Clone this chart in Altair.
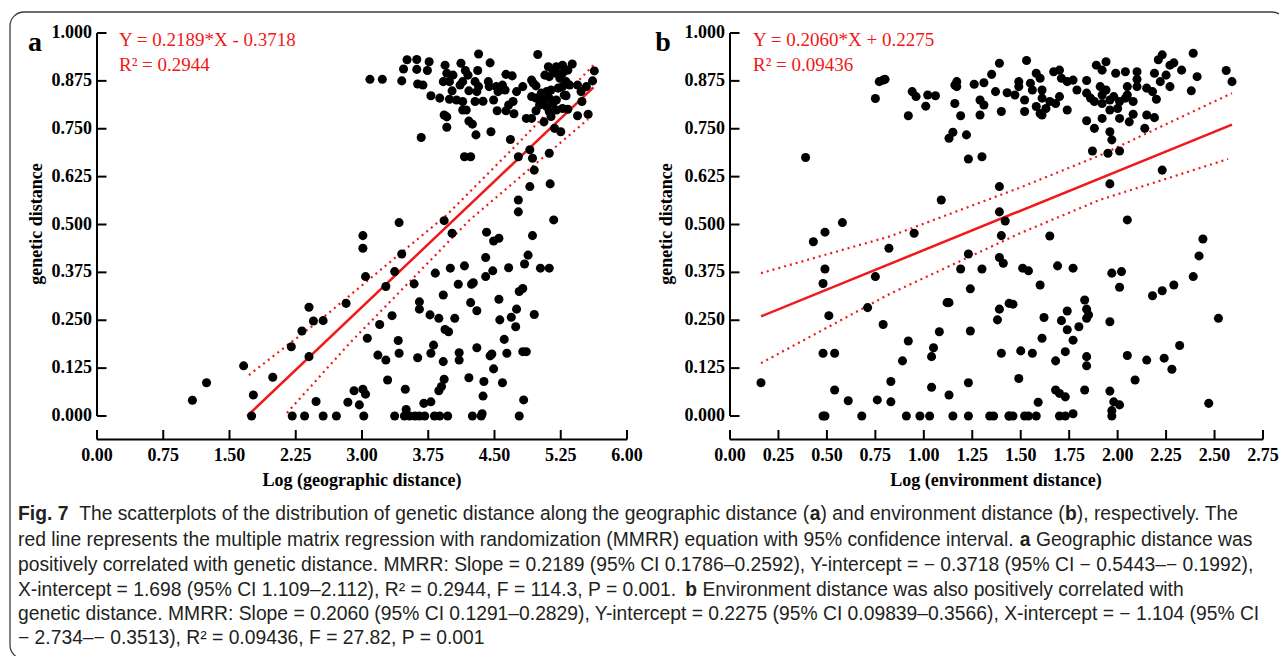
import altair as alt
import pandas as pd

# ---------------- data: panel a (geographic) ----------------
geo_x = [1.08, 1.24, 1.66, 1.77, 1.75, 1.99, 2.20, 2.32, 2.40, 2.45, 2.56, 2.40, 2.48, 2.21, 2.35, 2.56, 2.71,
         2.84, 2.91, 2.97, 3.01, 3.04, 3.02, 2.82, 3.01, 3.01, 3.04, 3.06, 3.42, 3.93, 4.02, 3.45, 3.37, 3.27,
         3.59, 3.34, 3.20, 3.18, 3.27, 3.41, 3.42, 3.29, 3.49, 3.37, 3.48, 3.54, 3.60, 3.65, 3.71, 3.50, 3.70,
         3.78, 3.82, 3.88, 3.97, 3.87, 3.90, 3.93, 3.65, 3.65, 3.77, 3.87, 3.92, 3.83, 4.00, 4.16, 4.09, 4.24,
         4.26, 3.94, 3.98, 4.05, 3.81, 3.78, 3.63, 3.92, 4.10, 4.10, 4.21, 4.23, 4.30, 4.30, 4.25, 4.35, 4.36,
         4.37, 4.38, 4.45, 4.47, 4.49, 4.59, 4.40, 4.40, 4.48, 4.41, 4.49, 4.55, 4.55, 4.56, 4.61, 4.64, 4.66,
         4.75, 4.69, 4.74, 4.83, 4.78, 4.78, 4.82, 4.84, 4.88, 4.93, 4.77, 4.77, 4.86, 4.82, 4.95, 5.02, 5.12,
         5.17,
         3.09, 3.23, 3.45, 3.51, 3.62, 3.76, 3.47, 3.62, 3.74, 3.63, 3.69, 3.78, 3.88, 3.94, 4.12, 4.32, 4.45,
         3.96, 4.03, 3.92, 3.99, 4.14, 4.17, 4.20, 4.31, 4.28, 4.32, 4.43, 4.44, 4.02, 3.99, 4.07, 4.14, 4.21,
         4.28, 4.37, 4.14, 4.18, 3.93, 3.96, 3.96, 4.21, 4.25, 4.29, 4.46, 3.67, 4.16, 4.23, 4.49, 4.54, 4.62,
         4.52, 4.63, 4.70, 4.53, 4.63, 4.72, 4.71, 4.66, 4.75, 4.82, 4.68, 4.99, 4.92, 4.94, 4.97, 4.92, 4.97,
         4.86, 4.92, 4.97, 5.06, 4.90, 4.77, 4.93, 4.95, 5.12, 4.90, 5.13,
         5.11, 5.16, 5.20, 5.12, 5.07, 5.24, 5.27, 5.33, 5.38, 5.31, 5.35, 5.27, 5.22, 5.14, 5.09, 5.03, 5.12,
         5.20, 5.29, 5.16, 5.09, 5.01, 5.12, 5.20, 5.27, 5.33, 5.14, 5.44, 5.48, 5.54, 5.63, 5.61, 5.49, 5.44,
         5.56, 5.18, 5.25, 5.31, 5.05, 5.27, 5.20, 4.11, 4.30, 4.59]
geo_y = [0.041, 0.087, 0.131, 0.055, 0.000, 0.101, 0.181, 0.222, 0.284, 0.248, 0.249, 0.155, 0.038, 0.000,
         0.000, 0.000, 0.000, 0.036, 0.066, 0.029, 0.070, 0.057, 0.000, 0.294, 0.471, 0.438, 0.364, 0.203,
         0.505, 0.510, 0.477, 0.423, 0.377, 0.338, 0.345, 0.262, 0.239, 0.159, 0.146, 0.197, 0.164, 0.094,
         0.070, 0.000, 0.000, 0.000, 0.000, 0.000, 0.000, 0.017, 0.033, 0.037, 0.000, 0.000, 0.000, 0.066,
         0.077, 0.096, 0.298, 0.279, 0.264, 0.255, 0.316, 0.373, 0.386, 0.392, 0.344, 0.344, 0.348, 0.226,
         0.220, 0.255, 0.185, 0.164, 0.152, 0.142, 0.165, 0.146, 0.100, 0.296, 0.275, 0.178, 0.000, 0.000,
         0.006, 0.052, 0.090, 0.157, 0.162, 0.123, 0.087, 0.414, 0.364, 0.379, 0.480, 0.457, 0.464, 0.305,
         0.251, 0.200, 0.164, 0.387, 0.279, 0.258, 0.233, 0.042, 0.000, 0.325, 0.333, 0.397, 0.420, 0.471,
         0.533, 0.564, 0.168, 0.168, 0.265, 0.386, 0.386, 0.512,
         0.879, 0.879, 0.875, 0.930, 0.931, 0.925, 0.906, 0.905, 0.902, 0.867, 0.864, 0.836, 0.830, 0.916,
         0.921, 0.945, 0.922, 0.895, 0.890, 0.873, 0.873, 0.873, 0.902, 0.890, 0.902, 0.873, 0.860, 0.873,
         0.860, 0.849, 0.827, 0.825, 0.821, 0.849, 0.821, 0.822, 0.799, 0.799, 0.786, 0.781, 0.754, 0.770,
         0.762, 0.734, 0.742, 0.727, 0.677, 0.677, 0.825, 0.847, 0.851, 0.860, 0.892, 0.888, 0.797, 0.797,
         0.789, 0.821, 0.812, 0.847, 0.860, 0.722, 0.944, 0.877, 0.869, 0.862, 0.834, 0.830, 0.777, 0.777,
         0.797, 0.768, 0.695, 0.677, 0.673, 0.642, 0.686, 0.599, 0.606,
         0.912, 0.903, 0.895, 0.886, 0.890, 0.882, 0.895, 0.903, 0.919, 0.873, 0.864, 0.860, 0.856, 0.851,
         0.847, 0.843, 0.830, 0.825, 0.838, 0.816, 0.808, 0.812, 0.795, 0.799, 0.803, 0.801, 0.782, 0.864,
         0.847, 0.860, 0.901, 0.875, 0.821, 0.784, 0.788, 0.751, 0.742, 0.836, 0.825, 0.916, 0.912, 0.864,
         0.847, 0.864]

# ---------------- data: panel b (environment) ----------------
env_x = [0.39, 0.75, 0.77, 0.79, 0.80, 0.92, 0.94, 0.96, 1.01, 1.02, 1.06, 1.09, 1.13, 1.15, 1.16, 1.16,
         1.17, 1.17, 1.19, 1.22, 1.23, 1.30, 1.26, 1.31, 1.29, 1.31, 1.29, 1.35, 1.37, 1.39, 1.40, 1.39,
         1.39, 1.43,
         0.16, 0.43, 0.49, 0.58, 0.49, 0.48, 0.51, 0.48, 0.54, 0.54, 0.61, 0.48, 0.49, 0.68, 0.76, 0.83,
         0.83, 0.71, 0.75, 0.82, 0.79, 0.92, 0.89, 0.91, 0.98, 1.03, 0.95, 1.04, 1.13, 1.04, 1.05, 1.08,
         1.12, 1.13, 1.15, 1.23, 1.23, 1.24, 1.24, 1.19, 1.30, 1.23, 1.34, 1.36, 1.44, 1.40, 1.38, 1.39,
         1.42, 1.40, 1.39, 1.41, 1.44,
         1.53, 1.49, 1.49, 1.47, 1.52, 1.55, 1.58, 1.60, 1.56, 1.61, 1.61, 1.65, 1.67, 1.70, 1.71, 1.74,
         1.77, 1.79, 1.70, 1.68, 1.63, 1.58, 1.60, 1.52, 1.74, 1.61, 1.84, 1.84, 1.86, 1.88, 1.84, 1.88,
         1.87, 1.89, 1.94, 1.92, 1.99, 2.04, 2.10, 1.91, 1.94, 1.92, 1.92, 1.96, 1.98, 2.01, 2.04, 2.05,
         2.08, 2.05, 2.10, 2.10, 2.00, 1.96, 1.92, 2.01, 2.06, 2.08, 2.15, 2.19, 2.14, 1.96, 1.97, 1.95,
         2.01, 2.15, 2.18, 2.20, 2.19, 2.21, 2.23, 2.27, 2.29, 2.33, 2.25, 2.22, 2.27, 2.39, 2.41, 2.38,
         2.56, 2.59, 2.23, 1.96,
         2.05, 1.65, 2.44, 2.42, 2.39, 2.29, 2.23, 2.18, 1.97, 2.02, 2.01, 1.51, 1.54, 1.69, 1.77, 1.60,
         1.46, 1.62, 1.71, 1.74, 1.74, 1.77, 1.80, 1.83, 1.84, 1.85, 1.84, 1.96, 1.61, 1.50, 1.56, 1.73,
         1.68, 1.84, 1.84, 2.05, 2.15, 2.24, 2.32, 2.28, 2.09, 1.49, 1.68, 1.70, 1.73, 1.83, 1.96, 1.98,
         2.01, 1.97, 1.97, 1.59, 2.47, 2.52, 1.44, 1.46, 1.52, 1.54, 1.58, 1.70, 1.73, 1.77]
env_y = [0.675, 0.829, 0.873, 0.877, 0.879, 0.784, 0.847, 0.834, 0.809, 0.838, 0.836, 0.564, 0.725, 0.741,
         0.816, 0.864, 0.873, 0.860, 0.784, 0.734, 0.671, 0.677, 0.866, 0.870, 0.825, 0.812, 0.786, 0.892,
         0.847, 0.921, 0.795, 0.599, 0.533, 0.844,
         0.087, 0.455, 0.480, 0.505, 0.384, 0.346, 0.262, 0.164, 0.164, 0.068, 0.040, 0.000, 0.000, 0.000,
         0.042, 0.090, 0.037, 0.283, 0.364, 0.438, 0.239, 0.196, 0.144, 0.000, 0.000, 0.000, 0.477, 0.075,
         0.055, 0.155, 0.178, 0.220, 0.296, 0.296, 0.000, 0.000, 0.087, 0.222, 0.332, 0.384, 0.384, 0.423,
         0.000, 0.000, 0.000, 0.164, 0.251, 0.279, 0.509, 0.471, 0.414, 0.399, 0.294,
         0.928, 0.873, 0.860, 0.838, 0.825, 0.869, 0.895, 0.882, 0.851, 0.851, 0.830, 0.821, 0.899, 0.903,
         0.882, 0.873, 0.877, 0.851, 0.834, 0.816, 0.803, 0.808, 0.790, 0.795, 0.799, 0.786, 0.876, 0.843,
         0.830, 0.821, 0.771, 0.751, 0.692, 0.916, 0.925, 0.903, 0.895, 0.899, 0.899, 0.860, 0.851, 0.838,
         0.816, 0.825, 0.834, 0.821, 0.830, 0.838, 0.821, 0.860, 0.860, 0.879, 0.803, 0.799, 0.777, 0.777,
         0.768, 0.788, 0.786, 0.779, 0.751, 0.742, 0.721, 0.686, 0.692, 0.856, 0.847, 0.827, 0.895, 0.930,
         0.943, 0.916, 0.922, 0.903, 0.890, 0.873, 0.860, 0.947, 0.886, 0.849, 0.902, 0.873, 0.642, 0.606,
         0.512, 0.470, 0.462, 0.418, 0.364, 0.342, 0.327, 0.314, 0.373, 0.377, 0.336, 0.386, 0.379, 0.392,
         0.386, 0.342, 0.292, 0.257, 0.249, 0.274, 0.225, 0.198, 0.233, 0.303, 0.279, 0.264, 0.255, 0.246,
         0.203, 0.170, 0.164, 0.168, 0.144, 0.155, 0.131, 0.158, 0.146, 0.151, 0.184, 0.122, 0.094, 0.098,
         0.068, 0.059, 0.050, 0.068, 0.065, 0.037, 0.029, 0.014, 0.000, 0.036, 0.033, 0.255, 0.000, 0.000,
         0.000, 0.000, 0.000, 0.000, 0.000, 0.006]

# regression lines and 95% CI bands
fit_a_x = [1.70, 5.62]
fit_a_y = [0.000, 0.858]
up_a_x = [1.72, 2.56, 3.96, 4.75, 5.62]
up_a_y = [0.107, 0.257, 0.525, 0.708, 0.916]
lo_a_x = [2.15, 2.86, 4.22, 5.56]
lo_a_y = [0.008, 0.190, 0.512, 0.775]

fit_b_x = [0.16, 2.59]
fit_b_y = [0.260, 0.761]
up_b_x = [0.16, 0.825, 1.50, 1.907, 2.59]
up_b_y = [0.373, 0.469, 0.597, 0.680, 0.843]
lo_b_x = [0.16, 0.825, 1.50, 1.907, 2.57]
lo_b_y = [0.138, 0.319, 0.478, 0.564, 0.671]

# ticks
x_ticks_a = [0, 0.75, 1.5, 2.25, 3.0, 3.75, 4.5, 5.25, 6.0]
x_labels_a = ["0.00", "0.75", "1.50", "2.25", "3.00", "3.75", "4.50", "5.25", "6.00"]
x_ticks_b = [0, 0.25, 0.5, 0.75, 1.0, 1.25, 1.5, 1.75, 2.0, 2.25, 2.5, 2.75]
x_labels_b = ["0.00", "0.25", "0.50", "0.75", "1.00", "1.25", "1.50", "1.75", "2.00", "2.25", "2.50", "2.75"]
y_ticks = [0, 0.125, 0.25, 0.375, 0.5, 0.625, 0.75, 0.875, 1.0]
y_labels = ["0.000", "0.125", "0.250", "0.375", "0.500", "0.625", "0.750", "0.875", "1.000"]

# caption: list of lines, each a list of (text, bold) segments
caption_lines = [
    [("Fig. 7", True),
     ("  The scatterplots of the distribution of genetic distance along the geographic distance (", False),
     ("a", True), (") and environment distance (", False), ("b", True), ("), respectively. The", False)],
    [("red line represents the multiple matrix regression with randomization (MMRR) equation with 95% confidence interval. ", False),
     ("a", True), (" Geographic distance was", False)],
    [("positively correlated with genetic distance. MMRR: Slope = 0.2189 (95% CI 0.1786–0.2592), Y-intercept = − 0.3718 (95% CI − 0.5443–− 0.1992),", False)],
    [("X-intercept = 1.698 (95% CI 1.109–2.112), R² = 0.2944, F = 114.3, P = 0.001. ", False),
     ("b", True), (" Environment distance was also positively correlated with", False)],
    [("genetic distance. MMRR: Slope = 0.2060 (95% CI 0.1291–0.2829), Y-intercept = 0.2275 (95% CI 0.09839–0.3566), X-intercept = − 1.104 (95% CI", False)],
    [("− 2.734–− 0.3513), R² = 0.09436, F = 27.82, P = 0.001", False)],
]

SERIF = "Liberation Serif"
SANS = "Liberation Sans"
RED = "#f01818"
W, H = 1271, 648
Y_RANGE = [408, 25]
AXIS_Y = 431.5

# Arial / Liberation Sans advance widths (per 1000 em) for laying out caption segments
_REG = {" ": 278, "%": 889, "(": 333, ")": 333, ",": 278, "-": 333, ".": 278, ":": 278, "=": 584,
        "–": 556, "−": 584, "²": 333,
        "A": 667, "B": 667, "C": 722, "D": 722, "E": 667, "F": 611, "G": 778, "H": 722, "I": 278,
        "K": 667, "L": 556, "M": 833, "N": 722, "O": 778, "P": 667, "R": 722, "S": 667, "T": 611,
        "X": 667, "Y": 667,
        "a": 556, "b": 556, "c": 500, "d": 556, "e": 556, "f": 278, "g": 556, "h": 556, "i": 222,
        "j": 222, "k": 500, "l": 222, "m": 833, "n": 556, "o": 556, "p": 556, "q": 556, "r": 333,
        "s": 500, "t": 278, "u": 556, "v": 500, "w": 722, "x": 500, "y": 500, "z": 500}
for _d in "0123456789":
    _REG[_d] = 556
_BOLD = {"F": 611, "i": 278, "g": 611, ".": 278, " ": 278, "7": 556, "a": 556, "b": 611}


def units(s, bold):
    tab = _BOLD if bold else _REG
    return sum(tab.get(c, 556) for c in s)


CAP_X0 = 10           # left edge of caption (view px)
CAP_FS = 19.3
cap_y = [506, 532, 557, 582, 606, 630]


def panel(xs_, ys_, xt, xl, fx, fy, ux, uy, lx, ly, xdom, xrange_):
    xs = alt.Scale(domain=xdom, range=xrange_, nice=False, zero=False)
    ys = alt.Scale(domain=[0, 1], range=Y_RANGE, nice=False, zero=False)
    ax0 = xrange_[0]
    enc = dict(x=alt.X("x:Q", scale=xs, axis=None), y=alt.Y("y:Q", scale=ys, axis=None))
    pts = alt.Chart(pd.DataFrame({"x": xs_, "y": ys_})).mark_circle(
        size=82, color="black", opacity=1).encode(**enc)
    fit = alt.Chart(pd.DataFrame({"x": fx, "y": fy})).mark_line(
        color=RED, strokeWidth=2.5).encode(**enc)
    up = alt.Chart(pd.DataFrame({"x": ux, "y": uy})).mark_line(
        color=RED, strokeWidth=2.2, strokeDash=[2, 4]).encode(**enc)
    lo = alt.Chart(pd.DataFrame({"x": lx, "y": ly})).mark_line(
        color=RED, strokeWidth=2.2, strokeDash=[2, 4]).encode(**enc)
    xdomain = alt.Chart(pd.DataFrame({"a": [xdom[0]], "b": [xdom[1]]})).mark_rule(
        color="black", strokeWidth=2).encode(
        x=alt.X("a:Q", scale=xs, axis=None), x2="b:Q", y=alt.value(AXIS_Y))
    ydomain = alt.Chart(pd.DataFrame({"x": [xdom[0]], "a": [0.0], "b": [1.0]})).mark_rule(
        color="black", strokeWidth=2).encode(
        x=alt.X("x:Q", scale=xs, axis=None),
        y=alt.Y("a:Q", scale=ys, axis=None), y2="b:Q")
    xt_df = pd.DataFrame({"v": xt, "t": xl})
    xticks = alt.Chart(xt_df).mark_rule(color="black", strokeWidth=2).encode(
        x=alt.X("v:Q", scale=xs, axis=None), y=alt.value(AXIS_Y - 9.5), y2=alt.value(AXIS_Y))
    xlab = alt.Chart(xt_df).mark_text(
        font=SERIF, fontSize=18, fontWeight="bold", baseline="middle", align="center").encode(
        x=alt.X("v:Q", scale=xs, axis=None), y=alt.value(448), text="t:N")
    yt_df = pd.DataFrame({"v": y_ticks, "t": y_labels})
    yticks = alt.Chart(yt_df).mark_rule(color="black", strokeWidth=2).encode(
        y=alt.Y("v:Q", scale=ys, axis=None), x=alt.value(ax0), x2=alt.value(ax0 + 9.5))
    ylab = alt.Chart(yt_df).mark_text(
        font=SERIF, fontSize=18, fontWeight="bold", baseline="middle", align="right").encode(
        y=alt.Y("v:Q", scale=ys, axis=None), x=alt.value(ax0 - 5), text="t:N")
    return alt.layer(up, lo, fit, pts, xdomain, ydomain, xticks, yticks, xlab, ylab)


panel_a = panel(geo_x, geo_y, x_ticks_a, x_labels_a, fit_a_x, fit_a_y, up_a_x, up_a_y,
                lo_a_x, lo_a_y, [0, 6], [89, 619])
panel_b = panel(env_x, env_y, x_ticks_b, x_labels_b, fit_b_x, fit_b_y, up_b_x, up_b_y,
                lo_b_x, lo_b_y, [0, 2.75], [722, 1255])


def txt(rows, **kw):
    df = pd.DataFrame(rows, columns=["t", "px", "py"])
    return alt.Chart(df).mark_text(**kw).encode(
        x=alt.X("px:Q", scale=None), y=alt.Y("py:Q", scale=None), text="t:N")


box = alt.Chart(pd.DataFrame({"k": [0]})).mark_rect(
    fill=None, stroke="#3c3c3c", strokeWidth=1.3, cornerRadius=14).encode(
    x=alt.value(2), x2=alt.value(1278), y=alt.value(4), y2=alt.value(651))

letters = txt([["a", 27, 35], ["b", 655, 35]], font=SERIF, fontSize=28, fontWeight="bold",
              baseline="middle", align="center")
xtitles = txt([["Log (geographic distance)", 354, 473], ["Log (environment distance)", 988, 473]],
              font=SERIF, fontSize=18, fontWeight="bold", baseline="middle", align="center")
ytitles = txt([["genetic distance", 29, 216], ["genetic distance", 659, 216]],
              font=SERIF, fontSize=18, fontWeight="bold", baseline="middle", align="center", angle=270)
eqs = txt([["Y = 0.2189*X - 0.3718", 111, 32], ["R² = 0.2944", 111, 57],
           ["Y = 0.2060*X + 0.2275", 745, 32], ["R² = 0.09436", 745, 57]],
          font=SERIF, fontSize=19, color=RED, baseline="middle", align="left")

# lay out caption segments one after another (whitespace is measured, not drawn)
reg_rows, bold_rows = [], []
for segs, yy in zip(caption_lines, cap_y):
    cx = CAP_X0
    for t, b in segs:
        lead = len(t) - len(t.lstrip(" "))
        cx += units(" " * lead, False) * CAP_FS / 1000.0
        core = t.strip(" ")
        (bold_rows if b else reg_rows).append([core, cx, yy])
        cx += units(core, b) * CAP_FS / 1000.0
        trail = len(t) - len(t.rstrip(" "))
        cx += units(" " * trail, False) * CAP_FS / 1000.0
cap_reg = txt(reg_rows, font=SANS, fontSize=CAP_FS, baseline="middle", align="left", color="#231f20")
cap_bold = txt(bold_rows, font=SANS, fontSize=CAP_FS, fontWeight="bold",
               baseline="middle", align="left", color="#231f20")

chart = alt.layer(panel_a, panel_b, box, letters, xtitles, ytitles, eqs, cap_reg, cap_bold).resolve_scale(
    x="independent", y="independent"
).properties(
    width=W, height=H, autosize=alt.AutoSizeParams(type="none"), padding=0
).configure_view(stroke=None)

chart.save("out.html", embed_options={"renderer": "svg", "actions": False})
